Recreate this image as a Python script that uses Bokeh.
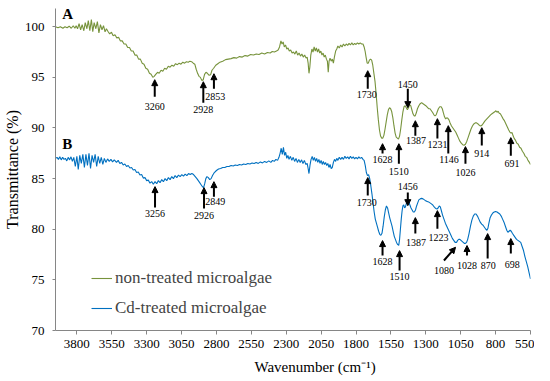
from bokeh.plotting import figure
from bokeh.models import Range1d, FixedTicker, Legend, LegendItem, Label, Arrow, NormalHead, Title
from bokeh.embed import file_html
from bokeh.resources import INLINE

wavenumber_ticks = [3800, 3550, 3300, 3050, 2800, 2550, 2300, 2050, 1800, 1550, 1300, 1050, 800, 550]
transmittance_ticks = [70, 75, 80, 85, 90, 95, 100]
series_names = ["non-treated microalgae", "Cd-treated microalgae"]
series_colors = ["#77933C", "#0070C0"]
panel_letters = [("A", 3905, 101.25), ("B", 3905, 88.45)]
x_title = "Wavenumber (cm\u207b\u00b9)"
y_title = "Transmittance (%)"

# (wavenumber cm-1, transmittance %)
spectrum_a = [
    (3953, 100.0), (3935, 99.9), (3918, 100.0), (3900, 99.85), (3885, 100.0), (3870, 99.9),
    (3855, 100.05), (3840, 99.85), (3826, 100.1), (3814, 99.85),
    (3805, 100.1), (3795, 99.8), (3784, 100.3), (3773, 99.7), (3762, 100.2), (3750, 99.6),
    (3740, 100.4), (3728, 99.8), (3718, 100.6), (3707, 99.6), (3696, 100.7), (3686, 99.5),
    (3676, 100.4), (3664, 99.8), (3653, 100.5), (3642, 99.4), (3631, 100.2), (3620, 99.7),
    (3609, 100.1), (3598, 99.5), (3588, 99.8),
    (3578, 99.55), (3565, 99.3), (3552, 99.45), (3540, 99.1), (3527, 99.2), (3514, 98.9),
    (3501, 98.95), (3488, 98.6), (3475, 98.6), (3462, 98.3), (3449, 98.3), (3436, 97.95),
    (3423, 97.95), (3410, 97.6), (3397, 97.6), (3384, 97.2), (3371, 97.2), (3358, 96.8),
    (3345, 96.8), (3332, 96.4), (3319, 96.3), (3306, 95.9), (3293, 95.8), (3280, 95.4),
    (3268, 95.3), (3256, 95.0), (3246, 95.1),
    (3235, 95.3), (3222, 95.5), (3210, 95.4), (3197, 95.7), (3184, 95.6), (3171, 95.9),
    (3158, 95.8), (3145, 96.1), (3132, 96.0), (3119, 96.2), (3106, 96.1), (3093, 96.35),
    (3080, 96.25), (3067, 96.4), (3054, 96.3), (3041, 96.5), (3028, 96.4), (3015, 96.55),
    (3002, 96.5), (2990, 96.6), (2978, 96.55), (2966, 96.4),
    (2955, 96.3), (2945, 95.8), (2935, 95.4), (2925, 95.1), (2915, 95.0), (2905, 94.7),
    (2895, 94.75), (2885, 95.3), (2875, 95.5), (2865, 95.4), (2852, 95.2), (2842, 95.25),
    (2832, 95.7), (2820, 95.9), (2805, 96.2), (2790, 96.35), (2775, 96.5),
    (2755, 96.6), (2735, 96.75), (2715, 96.8), (2695, 96.85), (2675, 96.95), (2655, 96.9),
    (2635, 97.05), (2615, 97.0), (2595, 97.15), (2575, 97.1), (2555, 97.25), (2535, 97.2),
    (2515, 97.3), (2495, 97.25), (2475, 97.4), (2455, 97.3), (2435, 97.45), (2415, 97.4),
    (2400, 97.55), (2385, 97.5), (2370, 97.6), (2358, 97.7), (2348, 98.0), (2338, 98.6),
    (2330, 98.3), (2322, 98.5), (2314, 98.0), (2305, 98.2), (2296, 97.8), (2287, 97.9),
    (2278, 97.6), (2268, 97.7), (2258, 97.4), (2248, 97.5), (2238, 97.3), (2228, 97.6),
    (2218, 97.2), (2208, 97.4), (2198, 97.1), (2188, 97.3), (2178, 97.0), (2168, 97.2),
    (2158, 96.9), (2150, 97.0), (2143, 96.4), (2137, 95.4), (2131, 96.0), (2124, 97.2),
    (2116, 97.8), (2108, 97.5), (2100, 98.0), (2092, 97.6), (2084, 97.9), (2076, 97.5),
    (2068, 97.8), (2060, 97.4), (2052, 97.6), (2044, 97.2), (2036, 97.4), (2028, 97.0),
    (2020, 97.2), (2012, 96.8), (2005, 96.6), (1999, 95.5), (1993, 96.6), (1986, 96.9),
    (1978, 96.6), (1970, 96.8), (1962, 96.4), (1955, 97.0), (1946, 97.6), (1938, 97.8),
    (1930, 98.1), (1920, 97.9), (1910, 98.2), (1900, 98.0), (1890, 98.3), (1880, 98.1),
    (1870, 98.3), (1860, 98.15), (1850, 98.35), (1840, 98.2), (1830, 98.4), (1820, 98.2),
    (1810, 98.35), (1800, 98.25), (1790, 98.4), (1780, 98.3), (1770, 98.4), (1760, 98.3),
    (1750, 98.3), (1742, 98.0), (1735, 97.6), (1728, 97.0), (1720, 96.4), (1712, 96.4),
    (1704, 96.7), (1696, 96.8), (1688, 96.7), (1680, 96.2), (1672, 95.4), (1664, 94.6),
    (1656, 93.4), (1648, 92.0), (1640, 90.8), (1632, 89.8), (1624, 89.2), (1616, 89.0),
    (1608, 89.0), (1600, 89.3), (1592, 89.9), (1584, 90.6), (1576, 91.3), (1568, 91.8),
    (1560, 92.0), (1552, 91.9), (1544, 91.6), (1536, 91.0), (1528, 90.2), (1520, 89.5),
    (1512, 89.1), (1504, 89.0), (1496, 88.9), (1488, 89.2), (1480, 89.9), (1472, 90.8),
    (1464, 91.6), (1456, 92.1), (1448, 92.2), (1440, 92.0), (1432, 91.8), (1424, 92.0),
    (1416, 92.3), (1408, 92.2), (1400, 91.8), (1392, 91.4), (1384, 91.2), (1376, 91.2),
    (1368, 91.5), (1360, 91.9), (1350, 92.2), (1340, 92.4), (1330, 92.5), (1320, 92.4),
    (1310, 92.3), (1300, 92.2), (1290, 92.05), (1280, 91.9), (1270, 91.9), (1260, 91.7),
    (1250, 91.5), (1242, 91.3), (1234, 91.2), (1226, 91.3), (1218, 91.6), (1210, 91.9),
    (1200, 92.1), (1190, 92.1), (1182, 91.9), (1174, 91.5), (1166, 91.1), (1158, 90.9),
    (1150, 91.0), (1142, 90.95), (1134, 90.8), (1126, 90.5), (1116, 90.2), (1106, 90.0),
    (1096, 89.8), (1086, 89.6), (1076, 89.3), (1066, 89.0), (1056, 88.7), (1046, 88.5),
    (1036, 88.35), (1026, 88.3), (1016, 88.4), (1006, 88.7), (996, 89.1), (986, 89.5),
    (976, 89.9), (966, 90.2), (956, 90.4), (946, 90.5), (936, 90.5), (926, 90.4),
    (916, 90.25), (906, 90.2), (896, 90.3), (886, 90.5), (876, 90.7), (866, 90.85),
    (856, 91.0), (846, 91.15), (836, 91.3), (826, 91.4), (816, 91.5), (806, 91.6),
    (798, 91.7), (790, 91.55), (782, 91.65), (774, 91.45), (766, 91.4), (756, 91.15),
    (746, 90.9), (736, 90.7), (726, 90.4), (716, 90.1), (706, 89.8), (698, 89.6),
    (690, 89.5), (682, 89.55), (674, 89.2), (666, 88.95), (658, 88.8), (648, 88.5),
    (638, 88.4), (628, 88.1), (618, 88.0), (608, 87.7), (598, 87.5), (588, 87.2),
    (578, 87.1), (568, 86.8), (558, 86.6), (550, 86.4),
]

spectrum_b = [
    (3953, 87.0), (3942, 87.1), (3932, 86.9), (3922, 87.15), (3912, 86.85), (3902, 87.1),
    (3892, 86.9), (3882, 87.0), (3872, 86.75), (3862, 87.1), (3852, 86.85), (3842, 87.15),
    (3832, 86.7), (3822, 87.1), (3811, 86.2), (3800, 87.2), (3790, 85.9), (3779, 87.3),
    (3768, 86.5), (3757, 87.4), (3746, 86.1), (3735, 87.4), (3724, 86.3), (3713, 87.5),
    (3702, 86.0), (3691, 87.3), (3680, 86.6), (3669, 87.4), (3658, 86.2), (3647, 87.2),
    (3636, 86.5), (3625, 87.1), (3614, 86.4), (3603, 87.0), (3592, 86.6),
    (3580, 86.95), (3568, 86.7), (3556, 86.9), (3544, 86.65), (3532, 86.85),
    (3516, 86.6), (3504, 86.8), (3492, 86.5), (3480, 86.6), (3468, 86.35), (3456, 86.45),
    (3444, 86.2), (3432, 86.3), (3420, 86.05), (3408, 86.1), (3396, 85.85), (3384, 85.9),
    (3372, 85.6), (3360, 85.65), (3348, 85.35), (3336, 85.4), (3324, 85.05), (3312, 85.1),
    (3300, 84.8), (3288, 84.85), (3276, 84.55), (3264, 84.7), (3252, 84.45), (3240, 84.7),
    (3228, 84.5), (3216, 84.8), (3204, 84.6), (3192, 84.9), (3180, 84.7), (3168, 85.0),
    (3156, 84.8), (3144, 85.1), (3132, 84.9), (3120, 85.2), (3108, 85.0), (3096, 85.3),
    (3084, 85.1), (3072, 85.35), (3060, 85.2), (3048, 85.4), (3036, 85.25), (3024, 85.45),
    (3012, 85.3), (3000, 85.5), (2988, 85.4), (2976, 85.5), (2964, 85.4), (2952, 85.2),
    (2940, 85.0), (2930, 84.8), (2920, 84.6), (2910, 84.4), (2900, 84.2), (2892, 84.1),
    (2884, 84.5), (2876, 85.0), (2868, 85.2), (2858, 85.1), (2848, 84.9), (2838, 85.0),
    (2828, 85.3), (2815, 85.6), (2800, 85.8), (2785, 85.95), (2770, 86.0), (2755, 86.1),
    (2740, 86.1), (2725, 86.2), (2710, 86.2), (2695, 86.3), (2680, 86.25), (2665, 86.35),
    (2650, 86.3), (2635, 86.4), (2620, 86.35), (2605, 86.45), (2590, 86.4), (2575, 86.5),
    (2560, 86.45), (2545, 86.55), (2530, 86.5), (2515, 86.6), (2500, 86.5), (2485, 86.65),
    (2470, 86.55), (2455, 86.7), (2440, 86.6), (2425, 86.75), (2410, 86.6), (2398, 86.8),
    (2386, 86.7), (2374, 86.9), (2362, 86.8), (2352, 87.1), (2344, 87.5), (2336, 88.0),
    (2328, 87.4), (2320, 88.1), (2312, 87.3), (2304, 87.6), (2296, 87.0), (2288, 87.3),
    (2280, 86.9), (2270, 87.2), (2260, 86.8), (2250, 87.1), (2240, 86.7), (2230, 87.0),
    (2220, 86.6), (2210, 86.9), (2200, 86.6), (2190, 86.85), (2180, 86.5), (2170, 86.8),
    (2160, 86.4), (2150, 86.5), (2143, 86.0), (2137, 85.5), (2130, 86.3), (2122, 86.9),
    (2114, 87.2), (2106, 86.8), (2098, 87.1), (2090, 86.7), (2082, 87.0), (2074, 86.6),
    (2066, 86.9), (2058, 86.5), (2050, 86.8), (2042, 86.4), (2034, 86.7), (2026, 86.4),
    (2018, 86.6), (2010, 86.3), (2002, 86.5), (1994, 86.1), (1986, 86.4), (1978, 86.0),
    (1970, 86.1), (1962, 86.6), (1954, 86.9), (1946, 86.7), (1938, 87.0), (1930, 86.8),
    (1920, 87.1), (1910, 86.9), (1900, 87.1), (1890, 86.9), (1880, 87.2), (1870, 87.0),
    (1860, 87.15), (1850, 86.95), (1840, 87.2), (1830, 87.0), (1820, 87.15), (1810, 86.95),
    (1800, 87.1), (1790, 86.95), (1780, 87.15), (1770, 87.0), (1760, 87.1), (1750, 86.9),
    (1742, 86.8), (1734, 86.3), (1726, 85.6), (1718, 85.3), (1710, 85.4), (1702, 85.0),
    (1694, 84.3), (1686, 83.5), (1678, 82.6), (1670, 81.7), (1662, 81.0), (1654, 80.6),
    (1646, 80.2), (1638, 79.8), (1630, 79.5), (1622, 79.4), (1614, 79.6), (1606, 80.3),
    (1598, 81.2), (1590, 81.9), (1582, 82.3), (1574, 82.1), (1566, 81.6), (1558, 81.1),
    (1550, 80.7), (1542, 80.3), (1534, 79.8), (1526, 79.3), (1518, 79.0), (1510, 78.7),
    (1502, 78.5), (1494, 78.4), (1488, 79.0), (1482, 80.0), (1476, 81.0), (1470, 81.8),
    (1464, 82.3), (1458, 82.4), (1452, 82.1), (1446, 82.2), (1438, 82.6), (1430, 82.8),
    (1422, 82.7), (1414, 82.4), (1406, 82.1), (1398, 81.9), (1390, 81.7), (1382, 81.7),
    (1374, 81.9), (1366, 82.3), (1358, 82.6), (1350, 82.9), (1340, 83.0), (1330, 83.05),
    (1320, 83.0), (1310, 82.9), (1300, 82.8), (1290, 82.75), (1280, 82.7), (1270, 82.6),
    (1260, 82.5), (1250, 82.4), (1240, 82.2), (1230, 82.05), (1220, 82.0), (1212, 82.1),
    (1204, 82.3), (1196, 82.2), (1188, 81.8), (1180, 81.4), (1170, 81.0), (1160, 80.6),
    (1150, 80.3), (1140, 80.0), (1130, 79.7), (1120, 79.4), (1110, 79.1), (1100, 78.9),
    (1090, 78.7), (1080, 78.7), (1072, 78.9), (1064, 79.0), (1056, 79.0), (1048, 78.9),
    (1040, 78.8), (1032, 78.7), (1024, 78.6), (1016, 78.6), (1008, 78.7), (1000, 79.0),
    (990, 79.6), (980, 80.3), (970, 80.9), (960, 81.3), (950, 81.5), (940, 81.5),
    (930, 81.3), (920, 81.0), (910, 80.7), (900, 80.5), (890, 80.4), (880, 80.2),
    (870, 80.0), (862, 79.9), (855, 80.1), (848, 80.6), (840, 81.1), (830, 81.4),
    (820, 81.6), (810, 81.7), (800, 81.75), (790, 81.7), (780, 81.6), (770, 81.5),
    (760, 81.3), (750, 81.0), (740, 80.7), (730, 80.3), (720, 79.9), (712, 79.7),
    (704, 79.8), (696, 79.9), (688, 79.8), (680, 79.6), (670, 79.4), (660, 79.2),
    (650, 79.0), (640, 78.9), (630, 78.8), (620, 78.7), (610, 78.3), (600, 77.9),
    (590, 77.3), (580, 76.8), (570, 76.3), (560, 75.7), (550, 75.1),
]

# peak marks: (text, x_tail, y_tail, x_tip, y_tip, x_text, y_text)
peaks_a = [
    ("3260", 3242, 93.09, 3242, 94.77, 3242, 92.10),
    ("2928", 2894, 92.50, 2894, 94.57, 2894, 91.81),
    ("2853", 2818, 93.88, 2818, 95.36, 2809, 93.09),
    ("1730", 1716, 93.88, 1716, 95.66, 1723, 93.29),
    ("1450", 1429, 93.88, 1429, 92.01, 1429, 94.28),
    ("1628", 1610, 87.47, 1610, 88.45, 1610, 86.87),
    ("1510", 1493, 86.48, 1493, 88.45, 1493, 85.69),
    ("1387", 1375, 89.24, 1375, 90.72, 1370, 88.75),
    ("1231", 1217, 88.95, 1217, 90.92, 1217, 88.35),
    ("1146", 1139, 87.47, 1139, 90.23, 1134, 86.87),
    ("1026", 1016, 86.48, 1016, 88.16, 1016, 85.59),
    ("914", 899, 88.26, 899, 90.03, 899, 87.47),
    ("691", 691, 87.27, 691, 89.05, 682, 86.48),
]
peaks_b = [
    ("3256", 3240, 82.14, 3240, 84.21, 3240, 81.55),
    ("2926", 2889, 82.04, 2889, 84.11, 2889, 81.35),
    ("2849", 2818, 83.22, 2818, 84.70, 2809, 82.73),
    ("1730", 1716, 83.32, 1716, 85.10, 1723, 82.66),
    ("1456", 1429, 83.62, 1429, 82.33, 1429, 84.21),
    ("1628", 1610, 77.40, 1610, 78.88, 1610, 76.81),
    ("1510", 1488, 75.92, 1488, 77.89, 1488, 75.33),
    ("1387", 1375, 79.57, 1375, 81.15, 1370, 78.68),
    ("1223", 1217, 80.06, 1217, 81.84, 1210, 79.18),
    ("1080", 1170, 76.91, 1087, 78.22, 1170, 75.92),
    ("1028", 1005, 77.40, 1005, 78.39, 1005, 76.41),
    ("870", 857, 77.10, 857, 79.57, 852, 76.41),
    ("698", 691, 77.60, 691, 79.08, 680, 76.51),
]

SERIF = "Liberation Serif"

p = figure(width=534, height=381, output_backend="svg", toolbar_location=None,
           x_range=Range1d(3953, 550), y_range=Range1d(70, 101.8),
           min_border_left=48, min_border_right=4, min_border_top=8, min_border_bottom=51)
p.outline_line_color = None
p.grid.grid_line_color = None
p.background_fill_color = "white"
p.border_fill_color = "white"

for ax in (p.xaxis[0], p.yaxis[0]):
    ax.axis_line_color = "#868686"
    ax.major_tick_line_color = "#868686"
    ax.minor_tick_line_color = None
    ax.major_tick_in = 0
    ax.major_label_text_font = SERIF
    ax.major_label_text_font_size = "13px"
    ax.major_label_text_color = "black"
    ax.axis_label_text_font = SERIF
    ax.axis_label_text_font_style = "normal"
    ax.axis_label_text_font_size = "16px"
    ax.axis_label_text_color = "black"

p.xaxis.ticker = FixedTicker(ticks=wavenumber_ticks)
p.yaxis.ticker = FixedTicker(ticks=transmittance_ticks)
p.xaxis.major_tick_out = 4
p.xaxis.major_label_standoff = 5
p.yaxis.major_tick_out = 3
p.yaxis.major_label_standoff = 8
p.yaxis.axis_label = y_title
p.yaxis.axis_label_standoff = 1

p.add_layout(Title(text=x_title, align="left", offset=199, standoff=13,
                   text_font=SERIF, text_font_size="15px", text_font_style="normal",
                   text_color="black"), "below")

renderers = []
for spec, color in zip([spectrum_a, spectrum_b], series_colors):
    xs = [pt[0] for pt in spec]
    ys = [pt[1] for pt in spec]
    renderers.append(p.line(xs, ys, line_color=color, line_width=1.1))

for peaks in (peaks_a, peaks_b):
    for text, x0, y0, x1, y1, xt, yt in peaks:
        p.add_layout(Arrow(x_start=x0, y_start=y0, x_end=x1, y_end=y1,
                           line_color="black", line_width=2,
                           end=NormalHead(size=6, fill_color="black", line_color="black", line_width=1)))
        p.add_layout(Label(x=xt, y=yt, text=text, text_align="center", text_baseline="middle",
                           text_font=SERIF, text_font_size="10px", text_color="black"))

for letter, lx, ly in panel_letters:
    p.add_layout(Label(x=lx, y=ly, text=letter, text_align="left", text_baseline="middle",
                       text_font=SERIF, text_font_size="15px", text_font_style="bold",
                       text_color="black"))

legend = Legend(items=[LegendItem(label=n, renderers=[r]) for n, r in zip(series_names, renderers)],
                location=(36, 12), padding=0, margin=0, spacing=10,
                glyph_width=21, glyph_height=20, label_height=20, label_standoff=3,
                label_text_font=SERIF, label_text_font_size="17px",
                border_line_color=None, background_fill_alpha=0)
p.add_layout(legend)

open("out.html", "w").write(file_html(p, INLINE))
